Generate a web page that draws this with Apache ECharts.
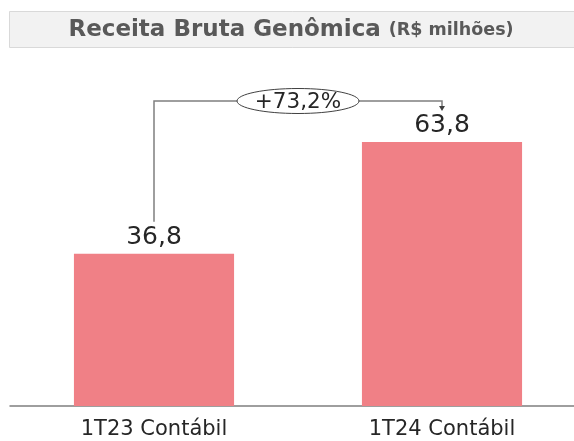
<!DOCTYPE html>
<html>
<head>
<meta charset="utf-8">
<script src="https://cdn.jsdelivr.net/npm/echarts@6/dist/echarts.min.js"></script>
<style>html,body{margin:0;padding:0;background:#fff}#c{width:574px;height:441px}</style>
</head>
<body>
<div id="c"></div>
<script>
var categories = ['1T23 Contábil', '1T24 Contábil'];
var values = [36.8, 63.8];
var growthLabel = '+73,2%';
var titleMain = 'Receita Bruta Genômica ';
var titleUnit = '(R$ milhões)';

var FONT = 'DejaVu Sans';
var chart = echarts.init(document.getElementById('c'), null, {renderer: 'canvas'});
function fmt(v) { return String(v.toFixed(1)).replace('.', ','); }

var option = {
  animation: false,
  grid: {left: 10, width: 576, top: 75, height: 331, containLabel: false, outerBoundsMode: 'none'},
  xAxis: {
    type: 'category', data: categories,
    axisLine: {lineStyle: {color: '#7f7f7f', width: 1.5}},
    axisTick: {show: false},
    axisLabel: {color: '#262626', fontSize: 21, fontFamily: FONT, margin: 13}
  },
  yAxis: {type: 'value', min: 0, max: 80, show: false, splitLine: {show: false}},
  series: [{
    type: 'bar', data: values, barCategoryGap: '44.4%',
    itemStyle: {color: '#f08086'},
    label: {show: true, position: 'top', distance: 4, color: '#262626', fontSize: 25, fontFamily: FONT,
      formatter: function (p) { return fmt(p.value); }}
  }],
  graphic: []
};
chart.setOption(option);

var p1 = chart.convertToPixel({seriesIndex: 0}, [0, values[0]]);
var p2 = chart.convertToPixel({seriesIndex: 0}, [1, values[1]]);
var lineY = 101;
var cx = (p1[0] + p2[0]) / 2;
var lineColor = '#7f7f7f';
chart.setOption({
  graphic: [
    {type: 'rect', shape: {x: 9.5, y: 11.5, width: 580, height: 36}, style: {fill: '#f2f2f2', stroke: '#d9d9d9', lineWidth: 1}},
    {type: 'text', x: 291, y: 30, style: {
      text: '{a|' + titleMain + '}{b|' + titleUnit + '}', align: 'center', verticalAlign: 'middle',
      rich: {a: {fontSize: 23, fontWeight: 'bold', fill: '#595959', fontFamily: FONT},
             b: {fontSize: 17.5, fontWeight: 'bold', fill: '#595959', fontFamily: FONT}}
    }},
    {type: 'polyline', shape: {points: [[p1[0], p1[1] - 32], [p1[0], lineY], [p2[0], lineY], [p2[0], p2[1] - 33]]},
      style: {stroke: lineColor, lineWidth: 1.5, fill: null}},
    {type: 'polygon', shape: {points: [[p2[0] - 3, p2[1] - 36], [p2[0] + 3, p2[1] - 36], [p2[0], p2[1] - 31]]},
      style: {fill: '#404040'}},
    {type: 'ellipse', shape: {cx: cx, cy: lineY, rx: 61, ry: 12.5}, style: {fill: '#fff', stroke: '#404040', lineWidth: 1}},
    {type: 'text', x: cx, y: lineY + 1, style: {text: growthLabel, align: 'center', verticalAlign: 'middle',
      fontSize: 21.5, fill: '#262626', fontFamily: FONT}}
  ]
});
</script>
</body>
</html>
